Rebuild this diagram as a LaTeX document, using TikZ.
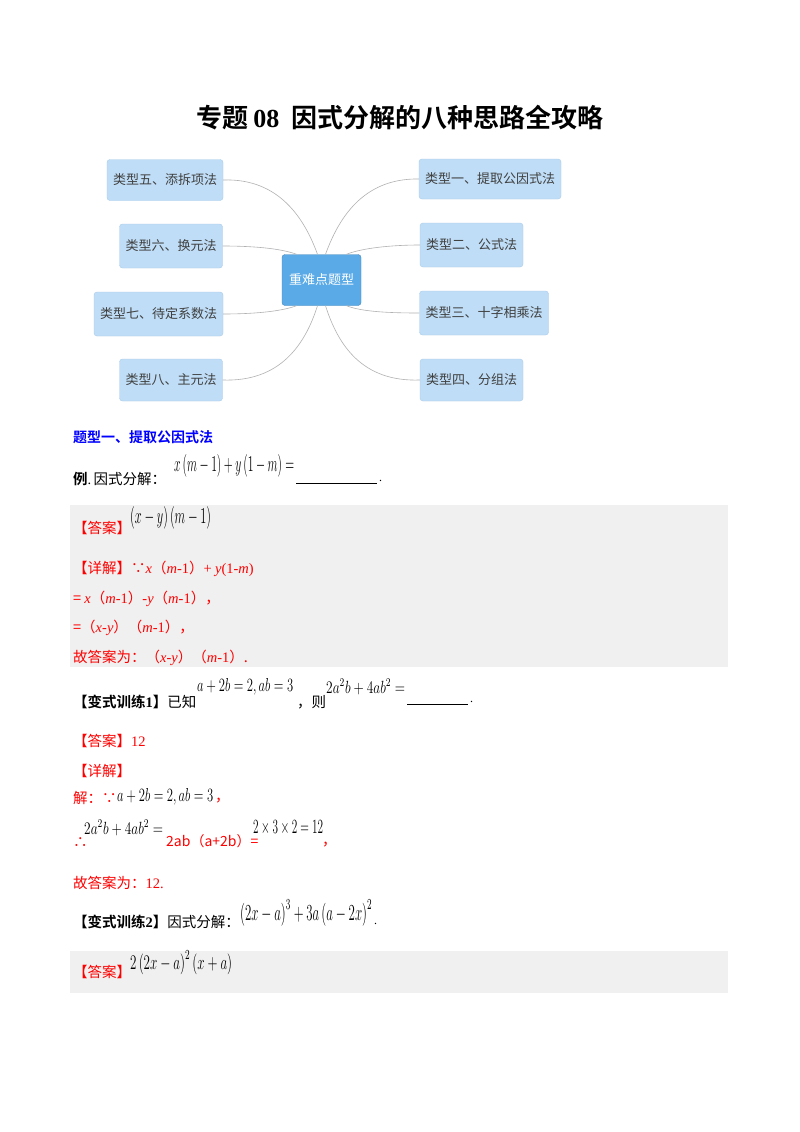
\documentclass[tikz,border=0pt]{standalone}
\usepackage{fontspec}
\setmainfont{Liberation Serif}
\newfontfamily\cjk{Noto Sans CJK SC}
\newfontfamily\cjkb{Noto Sans CJK SC Bold}
\usepackage{amsmath}
\usepackage{graphicx}
\definecolor{boxfill}{HTML}{BFDDF6}
\definecolor{boxline}{HTML}{A9CCEB}
\definecolor{ctr}{HTML}{5AAAE8}
\definecolor{ans}{HTML}{F0F0F0}
\definecolor{red1}{HTML}{FF0000}
\definecolor{blue1}{HTML}{0000FF}
\newcommand{\mw}[3]{\resizebox{#1pt}{#2pt}{$#3$}}
\begin{document}
\begin{tikzpicture}[x=1pt,y=-1pt,
  leaf/.style={draw=boxline,fill=boxfill,rounded corners=3pt,minimum height=42pt,inner xsep=6pt,font=\cjk\fontsize{13}{13}\selectfont,text=black!75},
  link/.style={draw=black!30,line width=0.6pt},
  tx/.style={anchor=west,inner sep=0pt,font=\cjk\fontsize{14.5}{15}\selectfont},
  rt/.style={tx,text=red1},
  mth/.style={anchor=west,inner sep=0pt,font=\fontsize{12}{14}\selectfont}]
\useasboundingbox (0,0) rectangle (800,1132);
\fill[white] (0,0) rectangle (800,1132);
\node[inner sep=0pt,font=\cjkb\fontsize{26}{26}\selectfont] (title) at (400,118) {专题\,{\rmfamily\bfseries 08}\ \ 因式分解的八种思路全攻略};
% mind map
\node[draw=ctr!80!black,fill=ctr,rounded corners=3pt,minimum width=79pt,minimum height=51pt,font=\cjk\fontsize{13}{13}\selectfont,text=white] (c) at (321.5,280) {重难点题型};
\node[leaf,minimum width=115pt,minimum height=41pt] (l5) at (165,180) {类型五、添拆项法};
\node[leaf,minimum width=102pt,minimum height=44pt] (l6) at (171,246) {类型六、换元法};
\node[leaf,minimum width=127pt,minimum height=44pt] (l7) at (158.5,314) {类型七、待定系数法};
\node[leaf,minimum width=102pt,minimum height=42pt] (l8) at (171,380) {类型八、主元法};
\node[leaf,minimum width=140pt,minimum height=40pt] (r1) at (490,179) {类型一、提取公因式法};
\node[leaf,minimum width=103pt,minimum height=44pt] (r2) at (471.5,245) {类型二、公式法};
\node[leaf,minimum width=128pt,minimum height=44pt] (r3) at (484,313) {类型三、十字相乘法};
\node[leaf,minimum width=103pt,minimum height=42pt] (r4) at (471.5,380) {类型四、分组法};
\draw[link] ([xshift=-4pt]c.north) .. controls (305,220) and (280,178) .. (l5.east);
\draw[link] ([xshift=-25pt]c.north) .. controls (280,248) and (250,246) .. (l6.east);
\draw[link] ([xshift=-25pt]c.south) .. controls (280,312) and (250,314) .. (l7.east);
\draw[link] ([xshift=-4pt]c.south) .. controls (305,345) and (280,382) .. (l8.east);
\draw[link] ([xshift=4pt]c.north) .. controls (338,220) and (362,178) .. (r1.west);
\draw[link] ([xshift=25pt]c.north) .. controls (362,248) and (392,245) .. (r2.west);
\draw[link] ([xshift=25pt]c.south) .. controls (362,312) and (392,313) .. (r3.west);
\draw[link] ([xshift=4pt]c.south) .. controls (338,345) and (362,382) .. (r4.west);
% section
\node[tx,font=\cjkb\fontsize{14}{15}\selectfont,text=blue1] (h1) at (73,437) {题型一、提取公因式法};
\node[tx] (e1) at (73,479) {{\cjkb 例}{\rmfamily .}\,因式分解：};
\node[mth] (e1m) at (174,466) {\mw{120}{17}{x\left(m-1\right)+y\left(1-m\right)=}};
\draw[black,line width=0.8pt] (296,483) -- (377,483) coordinate (e1u);
\node[mth] (e1p) at (379,481) {.};
% answer box 1
\fill[ans] (70,505) rectangle (728,667);
\node[rt] (a1) at (73,528) {【答案】};
\node[mth] (a1m) at (130,518) {\mw{81}{17}{\left(x-y\right)\left(m-1\right)}};
\node[rt] (d1) at (73,569) {【详解】∵{\rmfamily\itshape x}（{\rmfamily\itshape m}{\rmfamily -1}）{\rmfamily +} {\rmfamily\itshape y}{\rmfamily (1-}{\rmfamily\itshape m}{\rmfamily )}};
\node[rt] (d2) at (73,599) {= {\rmfamily\itshape x}（{\rmfamily\itshape m}{\rmfamily -1}）{\rmfamily -}{\rmfamily\itshape y}（{\rmfamily\itshape m}{\rmfamily -1}），};
\node[rt] (d3) at (73,628) {=（{\rmfamily\itshape x-y}）（{\rmfamily\itshape m}{\rmfamily -1}），};
\node[rt] (d4) at (73,658) {故答案为：（{\rmfamily\itshape x-y}）（{\rmfamily\itshape m}{\rmfamily -1}）.};
% variant 1
\node[tx] (v1) at (73,702) {{\cjkb 【变式训练{\rmfamily\bfseries 1}】}已知};
\node[mth] (v1m) at (197,687) {\mw{96}{13}{a+2b=2,ab=3}};
\node[tx] (v1c) at (297,702) {，则};
\node[mth] (v1n) at (326,687) {\mw{79}{14}{2a^2b+4ab^2=}};
\draw[black,line width=0.8pt] (407,704) -- (468,704) coordinate (v1u);
\node[mth] (v1p) at (470,702) {.};
\node[rt] (a2) at (73,741) {【答案】{\rmfamily 12}};
\node[rt] (d5) at (73,771) {【详解】};
\node[rt] (d6) at (73,798) {解：∵};
\node[mth] (d6m) at (117,797) {\mw{96}{13}{a+2b=2,ab=3}};
\node[rt] (d6c) at (215,801) {，};
\node[rt] (d7) at (73,843) {∴};
\node[mth] (d7m) at (84,828) {\mw{79}{14}{2a^2b+4ab^2=}};
\node[rt,font=\cjk\fontsize{14}{14}\selectfont] (d7a) at (166,841) {2ab（a+2b）=};
\node[mth] (d7b) at (253,828) {\mw{70}{13}{2\times3\times2=12}};
\node[rt] (d7c) at (322,845) {，};
\node[rt] (d8) at (73,883) {故答案为：{\rmfamily 12.}};
% variant 2
\node[tx] (v2) at (73,922) {{\cjkb 【变式训练{\rmfamily\bfseries 2}】}因式分解：};
\node[mth] (v2m) at (240,913) {\mw{132}{21}{\left(2x-a\right)^3+3a\left(a-2x\right)^2}};
\node[mth] (v2p) at (374,924) {.};
\fill[ans] (70,951) rectangle (728,993);
\node[rt] (a3) at (73,972) {【答案】};
\node[mth] (a3m) at (130,963) {\mw{102}{19}{2\left(2x-a\right)^2\left(x+a\right)}};
\end{tikzpicture}
\end{document}
